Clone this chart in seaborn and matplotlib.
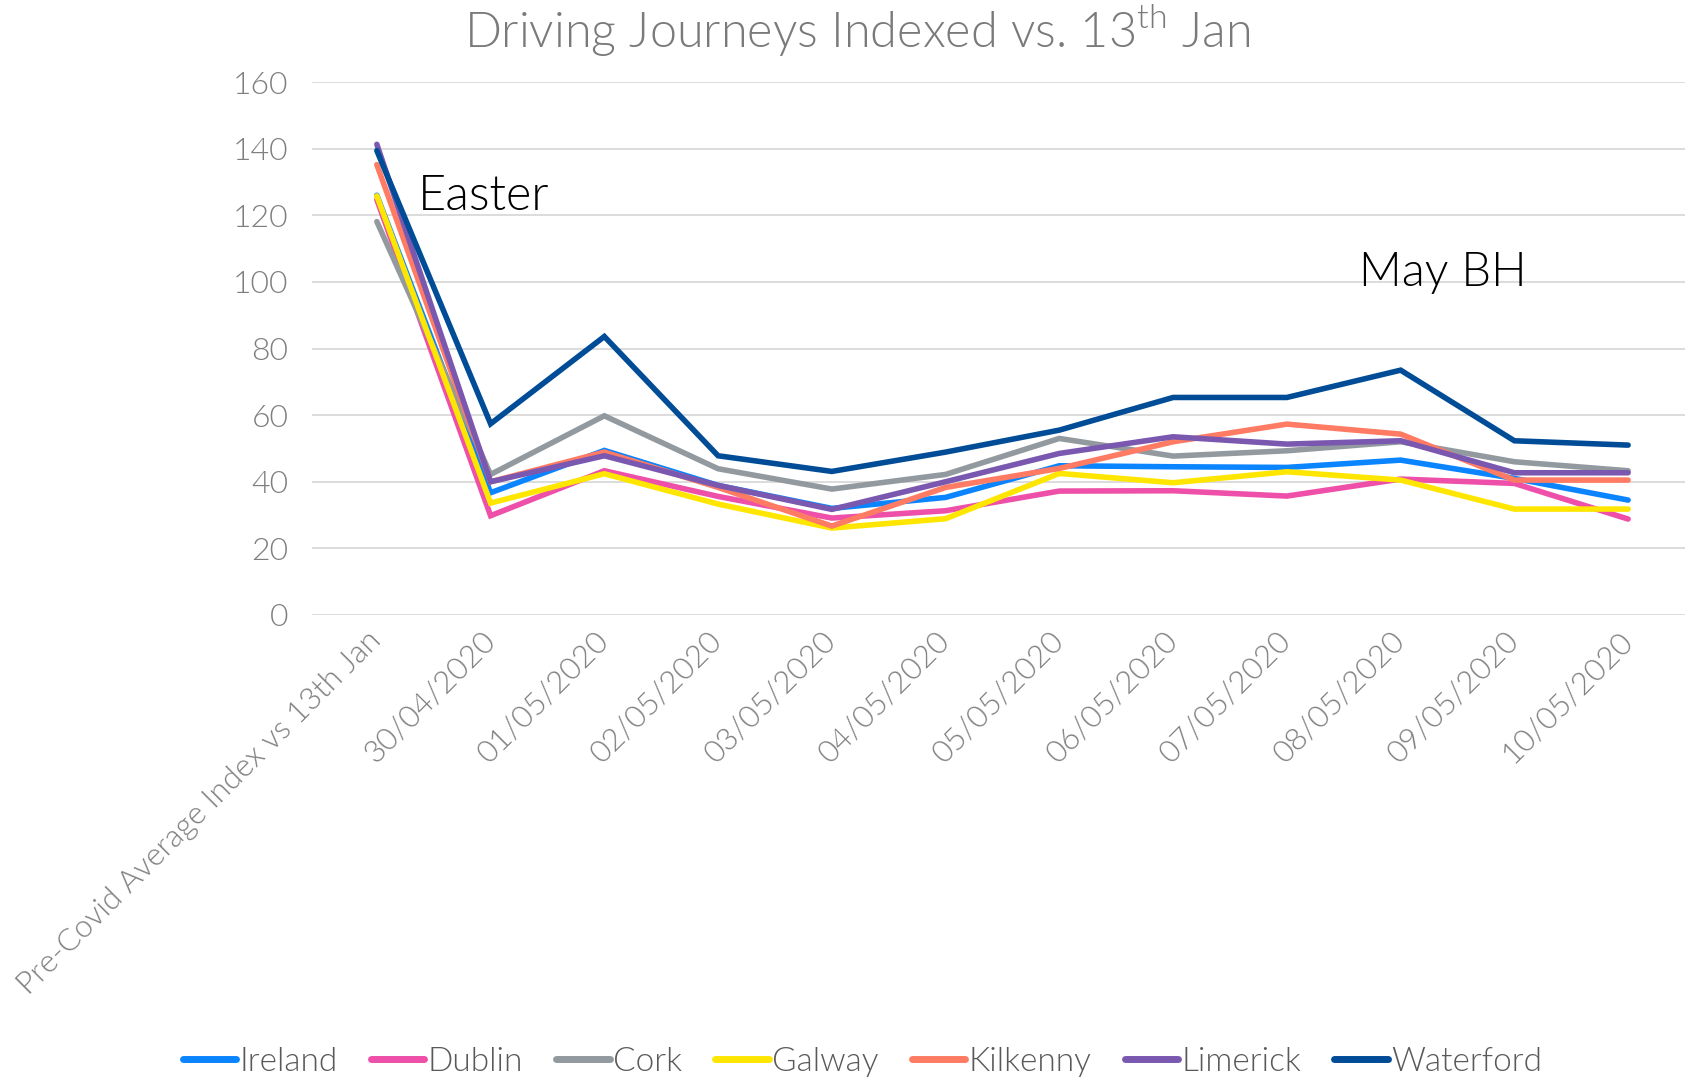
import pandas as pd
import seaborn as sns
import matplotlib.pyplot as plt
from matplotlib.lines import Line2D

# Data
DATES = ["Pre-Covid Average Index vs 13th Jan", "30/04/2020", "01/05/2020",
         "02/05/2020", "03/05/2020", "04/05/2020", "05/05/2020", "06/05/2020",
         "07/05/2020", "08/05/2020", "09/05/2020", "10/05/2020"]
REGIONS = ["Ireland", "Dublin", "Cork", "Galway", "Kilkenny", "Limerick", "Waterford"]

IRELAND = [126, 36.7, 49.4, 38.9, 32.0, 35.3, 44.8, 44.5, 44.3, 46.5, 41.0, 34.5]
DUBLIN = [124.7, 29.8, 43.3, 35.6, 29.1, 31.3, 37.2, 37.3, 35.7, 40.8, 39.5, 28.8]
CORK = [118.1, 42.2, 59.8, 43.9, 37.8, 42.2, 53.0, 47.7, 49.3, 52.0, 46.0, 43.3]
GALWAY = [125.8, 33.6, 42.4, 33.3, 26.1, 28.9, 42.5, 39.7, 43.0, 40.5, 31.8, 31.8]
KILKENNY = [135.2, 40.0, 48.9, 38.3, 26.7, 38.3, 44.0, 52.0, 57.3, 54.3, 40.5, 40.5]
LIMERICK = [141.3, 40.0, 47.8, 38.9, 31.7, 40.0, 48.5, 53.5, 51.3, 52.3, 42.7, 42.7]
WATERFORD = [139.4, 57.4, 83.6, 47.8, 43.1, 48.9, 55.5, 65.3, 65.3, 73.5, 52.3, 51.0]

COLORS = ["#0A84FF", "#EE4FA8", "#939A9F", "#FFE600", "#FF7B63", "#7B58B0", "#004C97"]

series = [IRELAND, DUBLIN, CORK, GALWAY, KILKENNY, LIMERICK, WATERFORD]
df = pd.DataFrame({
    "Date": DATES * len(REGIONS),
    "Index": [v for s in series for v in s],
    "Region": [r for r in REGIONS for _ in DATES],
})

sns.set_theme(style="white")
plt.rcParams.update({
    "font.family": ["Lato", "DejaVu Sans"],
    "font.weight": 300,
    "mathtext.fontset": "custom",
    "mathtext.rm": "Lato:weight=300",
})

fig = plt.figure(figsize=(16.91, 10.78), dpi=100)
ax = fig.add_axes([312 / 1691, 1 - 615 / 1078, (1685 - 312) / 1691, (615 - 82) / 1078])

sns.lineplot(data=df, x="Date", y="Index", hue="Region", hue_order=REGIONS,
             palette=COLORS, sort=False, linewidth=4.0, ax=ax, legend=False,
             solid_capstyle="round", solid_joinstyle="miter")

ax.set_ylim(0, 160)
ax.set_xlim(-0.57, 11.5)
ax.set_yticks(range(0, 161, 20))
ax.yaxis.grid(True, color="#d9d9d9", linewidth=1.3)
ax.set_axisbelow(True)
for sp in ax.spines.values():
    sp.set_visible(False)
ax.set_xlabel("")
ax.set_ylabel("")
ax.tick_params(axis="y", length=0, pad=17, labelsize=23, labelcolor="#7f7f7f")
ax.tick_params(axis="x", length=0, pad=15, labelsize=22.5, labelcolor="#7f7f7f")
plt.setp(ax.get_xticklabels(), rotation=45, ha="right", va="center",
         rotation_mode="anchor")

ax.text(418 / 1691, 1 - 210 / 1078, "Easter", transform=fig.transFigure,
        fontsize=35, color="black", va="baseline")
ax.text(1359 / 1691, 1 - 286 / 1078, "May BH", transform=fig.transFigure,
        fontsize=34, color="black", va="baseline")

fig.text(857 / 1691, 1 - 48 / 1078, r"Driving Journeys Indexed vs. 13$^{\mathrm{th}}$ Jan",
         ha="center", va="baseline", fontsize=35, color="#7a7a7a")

handles = [Line2D([0], [0], color=c, linewidth=5, solid_capstyle="round") for c in COLORS]
leg = fig.legend(handles, REGIONS, loc="center", bbox_to_anchor=(0.51, 1 - 1062 / 1078),
                 ncol=7, frameon=False, fontsize=24, handlelength=1.6,
                 handletextpad=0.1, columnspacing=1.0)
for t in leg.get_texts():
    t.set_color("#595959")

fig.savefig("out.png", dpi=100)
